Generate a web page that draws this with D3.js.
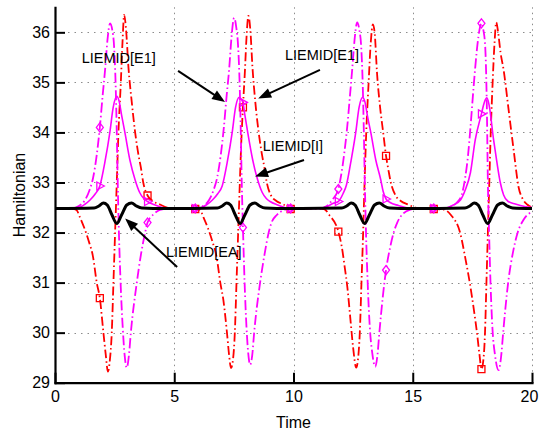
<!DOCTYPE html>
<html>
<head>
<meta charset="utf-8">
<script src="https://cdn.jsdelivr.net/npm/d3@7"></script>
<style>
  html, body { margin: 0; padding: 0; background: #fff; }
  svg text { font-family: Arial, "Liberation Sans", Helvetica, sans-serif; fill: #000; }
</style>
</head>
<body>
<svg id="chart" width="539" height="432"></svg>
<script>
// ---- data ----------------------------------------------------------------
const xTicks = [0, 5, 10, 15, 20];
const yTicks = [29, 30, 31, 32, 33, 34, 35, 36];
const xGrid = [5, 10, 15, 20];
const yGrid = [30, 31, 32, 33, 34, 35, 36];

// sample times that carry a marker symbol
const markerTimes = [1.88, 3.88, 5.88, 7.88, 9.88, 11.88, 13.88, 15.88, 17.88];

// red dash-dot curve (squares)
const rTime = [
  0, 0.70, 0.90, 1.05, 1.40, 1.60, 1.75, 1.88, 2.03, 2.13, 2.22, 2.30, 2.38, 2.45, 2.52, 2.59,
  2.66, 2.76, 2.83, 2.90, 2.98, 3.08, 3.22, 3.36, 3.50, 3.60, 3.70, 3.88, 4.10, 4.40, 4.70, 5.00,
  5.88, 6.08, 6.23, 6.58, 6.78, 6.93, 7.06, 7.21, 7.30, 7.38, 7.46, 7.54, 7.61, 7.68, 7.75, 7.81,
  7.88, 7.96, 8.03, 8.11, 8.19, 8.28, 8.40, 8.54, 8.68, 8.78, 8.88, 9.06, 9.28, 9.58, 9.88,
  10.90,
  11.28, 11.50, 11.88, 12.03, 12.15, 12.26, 12.38, 12.50, 12.63, 12.70, 12.78, 12.85, 12.92, 12.98,
  13.05, 13.15, 13.24, 13.33, 13.41, 13.50, 13.62, 13.76, 13.88, 13.98, 14.08, 14.28, 14.50, 14.80,
  15.10, 15.40,
  15.88, 16.30, 16.60, 17.00, 17.20, 17.40, 17.55, 17.70, 17.80, 17.88, 17.96, 18.03, 18.09, 18.15,
  18.21, 18.27, 18.35, 18.43, 18.50, 18.58, 18.68, 18.81, 19.02, 19.23, 19.44, 19.60, 19.80, 20.00
];
const rValue = [
  32.48, 32.48, 32.45, 32.30, 31.85, 31.50, 31.00, 30.69, 30.00, 29.55, 29.22, 29.45, 30.00, 31.00, 32.00, 33.00,
  34.00, 35.00, 35.80, 36.35, 36.05, 35.30, 34.60, 34.00, 33.55, 33.30, 33.00, 32.74, 32.63, 32.56, 32.50, 32.48,
  32.47, 32.45, 32.30, 31.85, 31.50, 31.00, 30.65, 30.00, 29.55, 29.29, 29.45, 30.00, 31.00, 32.00, 33.00, 33.80,
  34.50, 35.20, 35.90, 36.33, 36.05, 35.30, 34.60, 34.00, 33.55, 33.30, 33.00, 32.74, 32.63, 32.56, 32.47,
  32.48,
  32.47, 32.35, 32.02, 31.70, 31.30, 30.90, 30.30, 29.70, 29.30, 29.45, 30.00, 31.00, 32.00, 33.00,
  34.00, 35.00, 35.80, 36.16, 35.95, 35.20, 34.55, 34.00, 33.53, 33.25, 33.00, 32.74, 32.63, 32.56,
  32.50, 32.48,
  32.47, 32.46, 32.35, 31.97, 31.50, 30.97, 30.50, 29.97, 29.55, 29.27, 29.45, 30.00, 31.00, 32.00,
  33.00, 34.00, 35.00, 35.80, 36.20, 36.00, 35.60, 35.25, 34.45, 33.65, 32.90, 32.68, 32.56, 32.50
];

// magenta dash-dot curve (diamonds)
const mTime = [
  0, 0.70, 1.00, 1.26, 1.45, 1.60, 1.75, 1.88, 2.00, 2.10, 2.20, 2.31, 2.40, 2.48, 2.54, 2.59,
  2.63, 2.68, 2.75, 2.84, 2.92, 3.01, 3.10, 3.18, 3.43, 3.60, 3.78, 3.88, 4.10, 4.40, 4.80,
  5.88, 6.20, 6.46, 6.65, 6.80, 6.95, 7.08, 7.20, 7.30, 7.40, 7.51, 7.60, 7.68, 7.74, 7.79, 7.83,
  7.88, 7.95, 8.03, 8.10, 8.18, 8.27, 8.35, 8.60, 8.78, 8.96, 9.08, 9.30, 9.60, 9.88,
  11.10, 11.40, 11.62, 11.88, 11.98, 12.12, 12.25, 12.37, 12.46, 12.56, 12.67, 12.76, 12.84, 12.90,
  12.95, 12.99, 13.04, 13.11, 13.20, 13.30, 13.43, 13.52, 13.60, 13.88, 14.05, 14.20, 14.35, 14.60,
  14.90, 15.20, 15.88,
  16.30, 16.60, 16.85, 17.05, 17.20, 17.32, 17.42, 17.55, 17.62, 17.75, 17.88, 17.96, 18.04, 18.11,
  18.15, 18.20, 18.26, 18.34, 18.45, 18.60, 18.70, 18.80, 19.00, 19.20, 19.40, 19.64, 20.00
];
const mValue = [
  32.48, 32.48, 32.53, 32.65, 32.85, 33.10, 33.55, 34.10, 34.75, 35.25, 35.85, 36.18, 36.05, 35.70, 35.00, 34.00,
  33.00, 32.00, 31.00, 30.10, 29.55, 29.30, 29.55, 30.00, 31.00, 31.55, 32.00, 32.20, 32.35, 32.45, 32.48,
  32.48, 32.53, 32.65, 32.85, 33.10, 33.55, 34.10, 34.75, 35.25, 35.90, 36.29, 36.10, 35.70, 35.00, 34.00, 33.00,
  32.10, 31.00, 30.10, 29.60, 29.36, 29.55, 30.00, 31.00, 31.55, 32.00, 32.20, 32.35, 32.45, 32.48,
  32.48, 32.53, 32.65, 32.87, 33.10, 33.55, 34.10, 34.75, 35.25, 35.85, 36.20, 36.05, 35.70, 35.00,
  34.00, 33.00, 32.00, 31.00, 30.10, 29.60, 29.32, 29.55, 30.00, 31.25, 31.70, 32.00, 32.20, 32.38,
  32.46, 32.48, 32.48,
  32.48, 32.52, 32.60, 32.75, 33.10, 33.55, 34.10, 34.90, 35.30, 35.90, 36.18, 36.05, 35.70, 34.40,
  33.00, 32.00, 31.00, 30.10, 29.55, 29.25, 29.50, 30.05, 31.00, 31.60, 32.00, 32.25, 32.42
];

// magenta solid curve (triangles)
const iTime = [
  0, 0.60, 1.00, 1.24, 1.47, 1.70, 1.88, 2.09, 2.30, 2.44, 2.59, 2.69, 2.79, 2.93, 3.14, 3.36,
  3.55, 3.72, 3.88, 4.20, 4.60, 5.00,
  5.88, 6.13, 6.37, 6.60, 6.83, 7.01, 7.22, 7.43, 7.57, 7.72, 7.80, 7.88, 7.96, 8.08, 8.29, 8.50,
  8.69, 8.86, 9.02, 9.34, 9.70, 9.88,
  11.10, 11.40, 11.65, 11.88, 12.08, 12.22, 12.40, 12.61, 12.75, 12.90, 13.00, 13.10, 13.24, 13.45,
  13.66, 13.76, 13.88, 14.05, 14.40, 14.80, 15.20, 15.88,
  16.30, 16.70, 17.00, 17.20, 17.42, 17.62, 17.88, 18.00, 18.11, 18.20, 18.39, 18.53, 18.67, 18.81,
  19.00, 19.30, 19.70, 20.00
];
const iValue = [
  32.48, 32.48, 32.50, 32.56, 32.65, 32.78, 32.93, 33.40, 34.00, 34.50, 34.72, 34.62, 34.35, 34.00, 33.45, 33.05,
  32.80, 32.68, 32.62, 32.55, 32.49, 32.48,
  32.48, 32.50, 32.56, 32.65, 32.78, 32.93, 33.40, 34.00, 34.50, 34.70, 34.67, 34.60, 34.35, 34.00, 33.45, 33.05,
  32.80, 32.68, 32.62, 32.55, 32.49, 32.48,
  32.48, 32.52, 32.58, 32.62, 32.78, 32.95, 33.40, 34.00, 34.50, 34.70, 34.60, 34.33, 34.00, 33.45,
  33.05, 32.82, 32.67, 32.60, 32.54, 32.49, 32.48, 32.48,
  32.48, 32.55, 32.65, 32.85, 33.20, 33.85, 34.37, 34.60, 34.69, 34.55, 33.85, 33.40, 33.00, 32.75,
  32.62, 32.57, 32.52, 32.50
];

// thick black curve
const eaTime = [
  0, 1.64, 1.84, 2.03, 2.19, 2.39, 2.59, 2.79, 3.01, 3.21, 3.41, 3.64, 4.60,
  6.81, 7.01, 7.20, 7.36, 7.56, 7.76, 7.96, 8.18, 8.38, 8.58, 8.81, 9.80,
  12.03, 12.23, 12.42, 12.58, 12.78, 12.98, 13.18, 13.40, 13.60, 13.80, 14.03, 15.00,
  17.19, 17.39, 17.58, 17.74, 17.94, 18.14, 18.34, 18.56, 18.76, 18.96, 19.19, 20.00
];
const eaValue = [
  32.48, 32.49, 32.53, 32.59, 32.55, 32.35, 32.18, 32.35, 32.55, 32.59, 32.53, 32.49, 32.48,
  32.49, 32.53, 32.59, 32.55, 32.35, 32.18, 32.35, 32.55, 32.59, 32.53, 32.49, 32.48,
  32.49, 32.53, 32.59, 32.55, 32.35, 32.18, 32.35, 32.55, 32.59, 32.53, 32.49, 32.48,
  32.49, 32.53, 32.59, 32.55, 32.35, 32.18, 32.35, 32.55, 32.59, 32.53, 32.49, 32.48
];

// annotation labels and arrows, in data coordinates (time, H)
const labels = [
  { text: "LIEMID[E1]", t: 1.12, h: 35.39 },
  { text: "LIEMID[E1]", t: 9.64, h: 35.45 },
  { text: "LIEMID[I]",  t: 8.71, h: 33.62 },
  { text: "LIEMID[EA]", t: 4.65, h: 31.52 }
];
const arrows = [
  { t0: 5.16,  h0: 35.23, t1: 7.13, h1: 34.61 },
  { t0: 11.11, h0: 35.25, t1: 8.52, h1: 34.68 },
  { t0: 10.44, h0: 33.45, t1: 8.39, h1: 33.12 },
  { t0: 5.12,  h0: 31.31, t1: 2.94, h1: 32.28 }
];

// ---- drawing ---------------------------------------------------------------
const svg = d3.select("#chart");
const x = d3.scaleLinear().domain([0, 20]).range([55, 532]);
const y = d3.scaleLinear().domain([29, 36.5]).range([382.7, 7.3]);

// dotted grid
const grid = svg.append("g").attr("stroke", "#8c8c8c").attr("stroke-width", 1).attr("fill", "none");
grid.selectAll("line.h").data(yGrid).join("line")
  .attr("class", "h")
  .attr("x1", x(0)).attr("x2", x(20))
  .attr("y1", d => Math.round(y(d)) + 0.5).attr("y2", d => Math.round(y(d)) + 0.5)
  .attr("stroke-dasharray", "1.5,5");
grid.selectAll("line.v").data(xGrid).join("line")
  .attr("class", "v")
  .attr("y1", y(29)).attr("y2", y(36.5))
  .attr("x1", d => Math.round(x(d)) + 0.5).attr("x2", d => Math.round(x(d)) + 0.5)
  .attr("stroke-dasharray", "1.5,4");

svg.append("defs").append("clipPath").attr("id", "plotClip")
  .append("rect").attr("x", x(0)).attr("y", y(36.5))
  .attr("width", x(20) - x(0)).attr("height", y(29) - y(36.5));

const series = [
  { t: rTime,  v: rValue,  color: "#ff0000", width: 1.8, dash: "9,3,1.5,3",  marker: "square" },
  { t: mTime,  v: mValue,  color: "#ff00ff", width: 1.8, dash: "10,3,1.5,3", marker: "diamond" },
  { t: iTime,  v: iValue,  color: "#ff00ff", width: 1.6, dash: null,         marker: "triangle" },
  { t: eaTime, v: eaValue, color: "#000000", width: 3,   dash: null,         marker: null }
];

const markerPath = {
  square: "M-3.5,-3.5h7v7h-7Z",
  diamond: "M0,-4.5L3.5,0L0,4.5L-3.5,0Z",
  triangle: "M4.5,0L-3,-4L-3,4Z"
};

const line = d3.line()
  .x(d => x(d[0]))
  .y(d => y(d[1]))
  .curve(d3.curveMonotoneX);

const plot = svg.append("g");
series.forEach(s => {
  const pts = s.t.map((t, i) => [t, s.v[i]]);
  plot.append("path")
    .datum(pts)
    .attr("clip-path", "url(#plotClip)")
    .attr("fill", "none")
    .attr("stroke", s.color)
    .attr("stroke-width", s.width)
    .attr("stroke-linejoin", "round")
    .attr("stroke-dasharray", s.dash)
    .attr("d", line);
  if (s.marker) {
    const marks = pts.filter(p => markerTimes.some(m => Math.abs(m - p[0]) < 1e-6));
    plot.selectAll(null).data(marks).join("path")
      .attr("transform", d => `translate(${x(d[0])},${y(d[1])})`)
      .attr("d", markerPath[s.marker])
      .attr("fill", "none")
      .attr("stroke", s.color)
      .attr("stroke-width", 1.3);
  }
});

// axes
const yAxis = d3.axisLeft(y).tickValues(yTicks).tickSizeInner(-10).tickSizeOuter(0).tickPadding(5);
const xAxis = d3.axisBottom(x).tickValues(xTicks).tickSizeInner(-10).tickSizeOuter(0).tickPadding(8);

const gy = svg.append("g").attr("transform", `translate(${x(0)},0)`).call(yAxis);
const gx = svg.append("g").attr("transform", `translate(0,${y(29)})`).call(xAxis);
[gx, gy].forEach(g => {
  g.select(".domain").attr("stroke", "#000").attr("stroke-width", 2.2).attr("stroke-linecap", "square");
  g.selectAll(".tick line").attr("stroke", "#000").attr("stroke-width", 2);
  g.selectAll(".tick text").attr("font-size", 16).attr("font-family", "Arial, 'Liberation Sans', sans-serif").attr("fill", "#000");
});
// keep the last time label inside the canvas edge
gx.selectAll(".tick text").filter(d => d === 20).attr("dx", -3);

svg.append("text")
  .attr("x", (x(0) + x(20)) / 2).attr("y", 428)
  .attr("text-anchor", "middle").attr("font-size", 16)
  .text("Time");
svg.append("text")
  .attr("transform", `translate(25,${(y(29) + y(36.5)) / 2}) rotate(-90)`)
  .attr("text-anchor", "middle").attr("font-size", 16)
  .text("Hamiltonian");

// annotations
const notes = svg.append("g");
notes.selectAll("text").data(labels).join("text")
  .attr("x", d => x(d.t)).attr("y", d => y(d.h))
  .attr("font-size", 14.5)
  .text(d => d.text);

const headLen = 13, headHalf = 5;
arrows.forEach(a => {
  const x0 = x(a.t0), y0 = y(a.h0), x1 = x(a.t1), y1 = y(a.h1);
  const dx = x1 - x0, dy = y1 - y0, len = Math.hypot(dx, dy);
  const ux = dx / len, uy = dy / len;
  const bx = x1 - ux * headLen, by = y1 - uy * headLen;
  notes.append("line")
    .attr("x1", x0).attr("y1", y0).attr("x2", bx + ux * 2).attr("y2", by + uy * 2)
    .attr("stroke", "#000").attr("stroke-width", 2);
  notes.append("path")
    .attr("d", `M${x1},${y1}L${bx - uy * headHalf},${by + ux * headHalf}L${bx + uy * headHalf},${by - ux * headHalf}Z`)
    .attr("fill", "#000");
});
</script>
</body>
</html>
